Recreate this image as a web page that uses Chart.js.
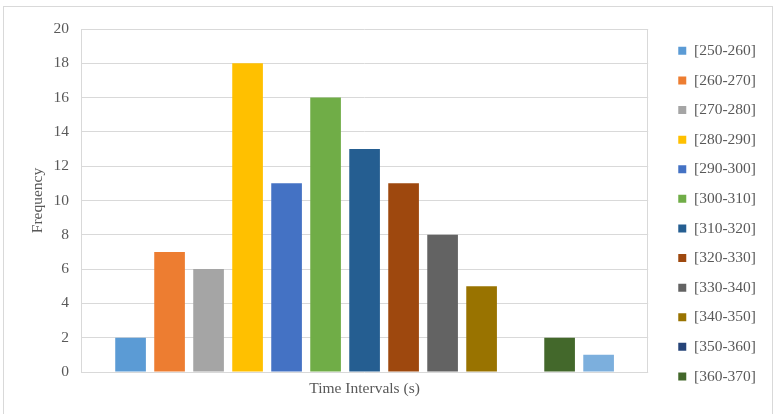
<!DOCTYPE html>
<html>
<head>
<meta charset="utf-8">
<script src="https://cdn.jsdelivr.net/npm/chart.js@4/dist/chart.umd.min.js"></script>
<style>
    body { margin: 0; background: #fff; }
</style>
</head>
<body>
<canvas id="myChart" width="777" height="414"></canvas>
<script>
// one series per time interval, single category (Excel clustered column)
const intervals = ['[250-260]', '[260-270]', '[270-280]', '[280-290]', '[290-300]', '[300-310]',
    '[310-320]', '[320-330]', '[330-340]', '[340-350]', '[350-360]', '[360-370]', '[370-380]'];
const counts = [2, 7, 6, 18, 11, 16, 13, 11, 8, 5, 0, 2, 1];
const colors = ['#5B9BD5', '#ED7D31', '#A5A5A5', '#FFC000', '#4472C4', '#70AD47',
    '#255E91', '#9E480E', '#636363', '#997300', '#264478', '#43682B', '#7CAFDD'];
const yTicks = [0, 2, 4, 6, 8, 10, 12, 14, 16, 18, 20];

const txt = '#595959';
const grid = '#d9d9d9';
const fnt = 'Liberation Serif, Times New Roman, serif';

// outer chart border + plot area border
const frame = {
    id: 'frame',
    beforeDraw(c) {
        let ctx = c.ctx;
        ctx.save();
        ctx.fillStyle = '#fff';
        ctx.fillRect(0, 0, c.width, c.height);
        ctx.strokeStyle = grid;
        ctx.lineWidth = 1;
        ctx.strokeRect(3.5, 6.5, 769, 412);
        ctx.restore();
    },
    afterDatasetsDraw(c) {
        let a = c.chartArea;
        let ctx = c.ctx;
        ctx.save();
        ctx.strokeStyle = grid;
        ctx.lineWidth = 1;
        ctx.beginPath();
        ctx.moveTo(Math.round(a.left) + 0.5, a.top);
        ctx.lineTo(Math.round(a.left) + 0.5, a.bottom);
        ctx.moveTo(Math.round(a.right) - 0.5, a.top);
        ctx.lineTo(Math.round(a.right) - 0.5, a.bottom);
        ctx.stroke();
        ctx.restore();
    }
};

let datasets = intervals.map((lab, i) => ({
    label: lab,
    data: [counts[i]],
    backgroundColor: colors[i],
    borderWidth: 0,
    barPercentage: 0.786,
    categoryPercentage: 0.894,
}));

var chart = new Chart(document.getElementById('myChart'), {
    type: 'bar',
    data: { labels: [''], datasets: datasets },
    plugins: [frame],
    options: {
        responsive: false,
        animation: false,
        layout: { padding: { top: 29, left: 26, right: 11, bottom: 10 } },
        scales: {
            x: {
                grid: { display: false },
                border: { display: false },
                ticks: { display: false },
                title: {
                    display: true,
                    text: 'Time Intervals (s)',
                    color: txt,
                    font: { family: fnt, size: 15.5 },
                    padding: { top: 4, bottom: 6 },
                },
                afterFit(s) { s.height = 32; },
            },
            y: {
                min: 0,
                max: 20,
                afterBuildTicks(s) { s.ticks = yTicks.map(v => ({ value: v })); },
                grid: { color: grid, drawTicks: false },
                border: { display: false },
                ticks: { color: txt, padding: 12, font: { family: fnt, size: 15.5 } },
                title: {
                    display: true,
                    text: 'Frequency',
                    color: txt,
                    font: { family: fnt, size: 15.5 },
                    padding: { top: 3, bottom: 2 },
                },
                afterFit(s) { s.width = 81 - 26; },
            },
            // empty spacer between plot area and legend
            gap: {
                position: 'right',
                grid: { display: false },
                border: { display: false },
                ticks: { display: false },
                afterFit(s) { s.width = 16; },
            },
        },
        plugins: {
            tooltip: { enabled: false },
            legend: {
                position: 'right',
                align: 'start',
                // the reference legend is clipped after [360-370]
                labels: {
                    filter: (item) => item.datasetIndex < 12,
                    color: txt,
                    boxWidth: 8,
                    boxHeight: 8,
                    padding: 14.1,
                    font: { family: fnt, size: 15.5 },
                },
            },
        },
    },
});
</script>
</body>
</html>
